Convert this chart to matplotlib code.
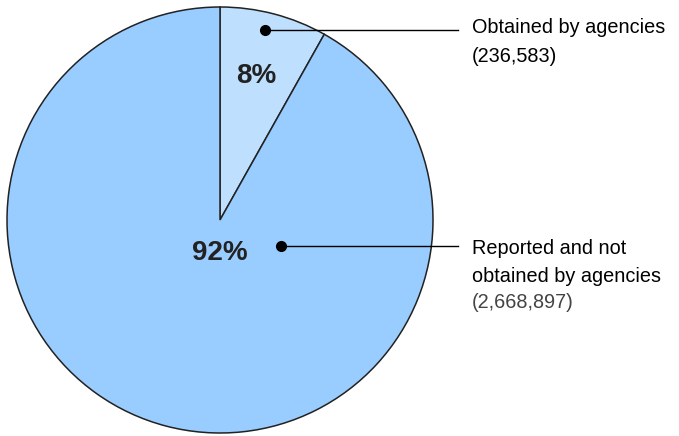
import matplotlib.pyplot as plt

plt.rcParams['font.family'] = ['Liberation Sans', 'DejaVu Sans']

labels = ['Obtained by agencies', 'Reported and not\nobtained by agencies']
counts = [236583, 2668897]
pct_labels = ['8%', '92%']
colors = ['#BFDFFF', '#99CCFF']

fig = plt.figure(figsize=(6.79, 4.36), dpi=100)
ax = fig.add_axes([0, 0, 1, 1])

# pie in pixel coordinates (y up)
cx, cy, r = 220, 216, 213
ax.pie(counts, colors=colors, startangle=90, counterclock=False,
       center=(cx, cy), radius=r, frame=True,
       wedgeprops=dict(edgecolor='#222222', linewidth=1.1))
ax.set_xlim(0, 679)
ax.set_ylim(0, 436)
ax.axis('off')

# percentage labels
ax.text(256, 360, pct_labels[0], fontsize=20, fontweight='bold', color='#222222',
        ha='center', va='center')
ax.text(220, 183, pct_labels[1], fontsize=20, fontweight='bold', color='#222222',
        ha='center', va='center')

# callout dots and lines
dots = [(265, 406), (281, 190)]
for (x, y) in dots:
    ax.plot([x, 458], [y, y], color='black', linewidth=1)
    ax.plot(x, y, 'o', color='black', markersize=7)

fs = 14.3
ax.text(472, 408, labels[0], fontsize=fs, color='black', ha='left', va='center')
ax.text(472, 379, '({:,})'.format(counts[0]), fontsize=fs, color='black',
        ha='left', va='center')

ax.text(472, 188, 'Reported and not', fontsize=fs, color='black', ha='left', va='center')
ax.text(472, 160, 'obtained by agencies', fontsize=fs, color='black', ha='left', va='center')
ax.text(472, 134, '({:,})'.format(counts[1]), fontsize=fs, color='#444444',
        ha='left', va='center')

fig.savefig('out.png', dpi=100)
